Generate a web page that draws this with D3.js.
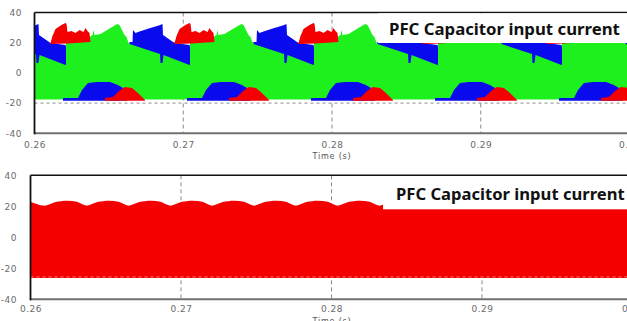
<!DOCTYPE html>
<html><head><meta charset="utf-8">
<script src="https://cdn.jsdelivr.net/npm/d3@7"></script>
<style>body{margin:0;background:#fff;} svg{display:block;}</style>
</head><body><svg id="c" width="627" height="321"></svg>
<script>
// ================= DATA =================
const xTickValues = [0.26, 0.27, 0.28, 0.29, 0.30];
const xTickLabels = ["0.26", "0.27", "0.28", "0.29", "0.30"];
const yTickValues = [-40, -20, 0, 20, 40];
const yTickLabels = ["-40", "-20", "0", "20", "40"];
const gridX = [0.27, 0.28, 0.29];
const gridY = [-20, 0, 20];
const legendText = "PFC Capacitor input current";
const axisTitle = "Time (s)";

// ---- top panel: three phase currents, envelope of each cycle (offset ms, current A) ----
const cycleStarts = [0.249714, 0.25805, 0.266387, 0.274723, 0.283059, 0.291395, 0.299731];
const greenTopMs = [0, 2.0, 4.034, 4.067, 5.58, 5.714, 5.849, 5.916, 5.983, 6.387, 6.723, 7.059, 7.395, 7.529, 7.664, 8.0, 8.134, 8.30];
const greenTopA  = [19.8, 18.0, 16.0, 20.5, 20.5, 24.4, 25.1, 28.4, 25.1, 25.8, 27.7, 29.7, 31.7, 32.4, 31.7, 25.1, 23.8, 19.1];
const greenBottomA = -17.6;

const blueUpMs = [0, 0.202, 0.235, 0.403, 0.672, 1.345, 2.017, 2.218, 2.252, 3.025, 4.034, 4.067];
const blueUpA  = [20.5, 20.5, 28.4, 26.4, 27.4, 29.5, 31.5, 32.4, 25.1, 19.8, 18.5, 17.2];
const blueLoMs = [0, 2.05, 2.084, 2.218, 2.286, 4.034, 4.067];
const blueLoA  = [19.1, 12.5, 6.6, 6.6, 11.9, 5.2, 5.2];

const redUpMs = [3.025, 3.16, 3.361, 3.765, 4.034, 4.101, 4.168, 4.437, 4.706, 4.975, 5.244, 5.378, 5.513, 5.647, 5.714];
const redUpA  = [19.8, 24.4, 29.1, 31.7, 33.0, 32.4, 27.1, 27.7, 26.4, 28.4, 27.1, 29.7, 27.7, 26.4, 20.5];
const redLoMs = [3.025, 4.168, 5.714];
const redLoA  = [19.1, 19.5, 20.5];

// negative half-cycle humps
const humpStarts = [0.261916, 0.270252, 0.278588, 0.286924, 0.29526];
const blueHumpMs = [0, 1.008, 1.143, 1.277, 1.681, 2.286, 3.16, 3.697, 4.034, 4.235, 4.303];
const blueHumpA  = [-16.6, -16.6, -14.0, -11.3, -6.7, -6.0, -6.0, -8.0, -10.0, -14.6, -17.9];
const redHumpMs  = [2.824, 3.361, 3.697, 4.034, 4.168, 4.639, 5.042, 5.378, 5.513];
const redHumpA   = [-16.6, -15.9, -12.6, -10.0, -9.3, -10.0, -13.3, -16.6, -17.9];
const humpBottomA = -18.4;

// ---- bottom panel: PFC capacitor input current envelope ----
const bottomWaveT = [0.2600,
  0.26096,0.26166,0.26242,0.26308, 0.26374,0.26444,0.26520,0.26586,
  0.26652,0.26722,0.26798,0.26864, 0.26930,0.27000,0.27076,0.27142,
  0.27207,0.27277,0.27353,0.27419, 0.27485,0.27555,0.27631,0.27697,
  0.27763,0.27833,0.27909,0.27975, 0.28041,0.28111,0.28187,0.28253,
  0.28319,0.28389,0.28465,0.28531, 0.28596,0.28666,0.28742,0.28808,
  0.28874,0.28944,0.29020,0.29086, 0.29152,0.29222,0.29298,0.29364,
  0.29430,0.29500,0.29576,0.29642, 0.29708,0.29778,0.29854,0.29920,
  0.29985,0.3005];
const bottomWaveA = [23.0,
  20.4,22.7,23.6,22.9, 20.4,22.7,23.6,22.9,
  20.4,22.7,23.6,22.9, 20.4,22.7,23.6,22.9,
  20.4,22.7,23.6,22.9, 20.4,22.7,23.6,22.9,
  20.4,22.7,23.6,22.9, 20.4,22.7,23.6,22.9,
  20.4,22.7,23.6,22.9, 20.4,22.7,23.6,22.9,
  20.4,22.7,23.6,22.9, 20.4,22.7,23.6,22.9,
  20.4,22.7,23.6,22.9, 20.4,22.7,23.6,22.9,
  20.4,22.7];
const bottomLowA = -26.3;

// ================= DRAW =================
const GREEN = "#1ef01e", BLUE = "#0a0aee", RED = "#f40000";
const svg = d3.select("#c");
svg.append("rect").attr("width", 627).attr("height", 321).attr("fill", "#fff");

function makePanel(p) {
  const x = d3.scaleLinear().domain([0.26, 0.30]).range([p.x0, p.x1]);
  const y = d3.scaleLinear().domain([-40, 40]).range([p.yb, p.yt]);
  const g = svg.append("g");
  const clipId = "clip" + p.id;
  svg.append("clipPath").attr("id", clipId).append("rect")
    .attr("x", p.x0).attr("y", p.yt).attr("width", 627 - p.x0).attr("height", p.yb - p.yt);
  // grid
  const grid = g.append("g").attr("stroke", "#8a8a8a").attr("stroke-width", 1).attr("stroke-dasharray", "4,3");
  grid.selectAll("line.gx").data(gridX).join("line").attr("class", "gx")
    .attr("x1", d => x(d)).attr("x2", d => x(d)).attr("y1", p.yt).attr("y2", p.yb);
  grid.selectAll("line.gy").data(gridY).join("line").attr("class", "gy")
    .attr("x1", p.x0).attr("x2", 627).attr("y1", d => y(d)).attr("y2", d => y(d))
    .attr("stroke-dasharray", "3,3");
  const plot = g.append("g").attr("clip-path", `url(#${clipId})`);
  // axes
  const ax = d3.axisBottom(x).tickValues(xTickValues).tickFormat((d, i) => xTickLabels[i]).tickSize(0).tickPadding(p.xPad);
  const axG = svg.append("g").attr("transform", `translate(0,${p.yb})`).call(ax);
  const ay = d3.axisLeft(y).tickValues(yTickValues).tickFormat((d, i) => yTickLabels[i]).tickSize(0).tickPadding(p.yPad);
  const ayG = svg.append("g").attr("transform", `translate(${p.x0},0)`).call(ay);
  [axG, ayG].forEach(a => {
    a.select(".domain").remove();
    a.selectAll("text").attr("font-family", "DejaVu Sans").attr("font-size", 9)
      .attr("fill", "#6a6a6a").attr("letter-spacing", 0.5);
  });
  // frame
  const frame = svg.append("g");
  p.frame = frame;
  frame.append("line").attr("x1", p.x0).attr("x2", 627).attr("y1", p.yb).attr("y2", p.yb).attr("stroke", "#707070").attr("stroke-width", 2);
  frame.append("line").attr("x1", p.x0).attr("x2", 627).attr("y1", p.yt).attr("y2", p.yt).attr("stroke", "#111").attr("stroke-width", 1.5);
  frame.append("line").attr("x1", p.x0).attr("x2", p.x0).attr("y1", p.yt).attr("y2", p.yb + 1).attr("stroke", "#111").attr("stroke-width", 1.8);
  // axis title
  svg.append("text").attr("x", 332).attr("y", p.titleY).attr("text-anchor", "middle")
    .attr("font-family", "DejaVu Sans").attr("font-size", 8).attr("letter-spacing", 0.8)
    .attr("fill", "#555").text(axisTitle);
  return { x, y, plot };
}

function fitLegend(px, py, targetW) {
  const t = svg.append("text").attr("x", px).attr("y", py)
    .attr("font-family", "'Noto Sans', 'Open Sans', sans-serif").attr("font-weight", "bold")
    .attr("font-size", 16).attr("fill", "#111").text(legendText);
  const w = t.node().getComputedTextLength();
  t.attr("font-size", 16 * targetW / w);
}

// ---------- top panel ----------
{
  const P = makePanel({ id: "t", x0: 34.5, x1: 629.5, yt: 12.5, yb: 133.3, xPad: 8.3, yPad: 12.5, titleY: 158.5 });
  const { x, y, plot } = P;
  const greenPts = [];
  cycleStarts.forEach(s => greenTopMs.forEach((m, i) => greenPts.push({ t: s + m / 1000, v: greenTopA[i] })));
  greenPts.sort((a, b) => a.t - b.t);
  plot.append("path").datum(greenPts)
    .attr("d", d3.area().x(d => x(d.t)).y0(y(greenBottomA)).y1(d => y(d.v)))
    .attr("fill", GREEN);

  const poly = d3.line().x(d => x(d.t)).y(d => y(d.v)).curve(d3.curveLinearClosed);
  function shape(starts, upMs, upA, loMs, loA, color) {
    starts.forEach(s => {
      const pts = upMs.map((m, i) => ({ t: s + m / 1000, v: upA[i] }))
        .concat(loMs.map((m, i) => ({ t: s + m / 1000, v: loA[i] })).reverse());
      plot.append("path").attr("d", poly(pts)).attr("fill", color);
    });
  }
  // positive half cycles
  shape(cycleStarts, blueUpMs, blueUpA, blueLoMs, blueLoA, BLUE);
  shape(cycleStarts, redUpMs, redUpA, redLoMs, redLoA, RED);
  // negative humps
  const flat = arr => arr.map(() => humpBottomA);
  shape(humpStarts, blueHumpMs, blueHumpA, blueHumpMs, flat(blueHumpMs), BLUE);
  shape(humpStarts, redHumpMs, redHumpA, redHumpMs, flat(redHumpMs), RED);

  // legend box
  svg.append("rect").attr("x", 378).attr("y", 13.3).attr("width", 250).attr("height", 29.7).attr("fill", "#fff");
  fitLegend(389, 35, 231);
}

// ---------- bottom panel ----------
{
  const P = makePanel({ id: "b", x0: 30.5, x1: 632.5, yt: 175.3, yb: 299.3, xPad: 6.3, yPad: 13.5, titleY: 324 });
  const { x, y, plot } = P;
  const pts = bottomWaveT.map((t, i) => ({ t, v: bottomWaveA[i] }));
  plot.append("path").datum(pts)
    .attr("d", d3.area().x(d => x(d.t)).y0(y(bottomLowA)).y1(d => y(d.v)).curve(d3.curveCatmullRom))
    .attr("fill", RED);
  plot.append("line").attr("x1", x(0.26)).attr("x2", x(0.30)).attr("y1", y(bottomLowA) - 1.2).attr("y2", y(bottomLowA) - 1.2)
    .attr("stroke", "#fff").attr("stroke-width", 0.8).attr("stroke-dasharray", "3,3").attr("opacity", 0.6);
  svg.append("rect").attr("x", 383).attr("y", 176.1).attr("width", 245).attr("height", 33.2).attr("fill", "#fff");
  fitLegend(396, 200, 229);
}
</script></body></html>
